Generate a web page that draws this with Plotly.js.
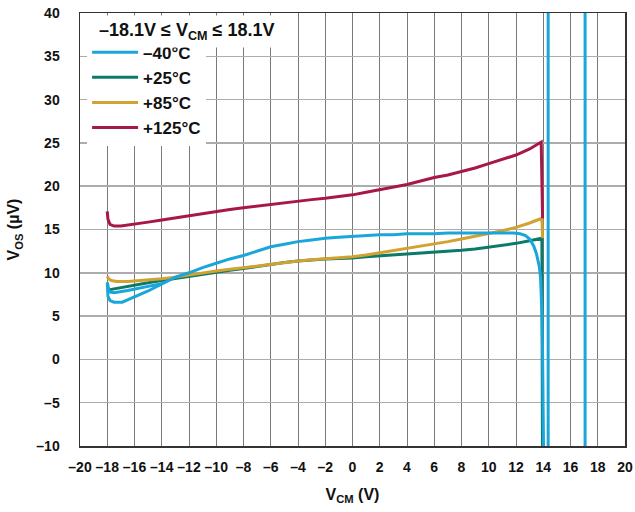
<!DOCTYPE html>
<html>
<head>
<meta charset="utf-8">
<script src="https://cdn.plot.ly/plotly-3.0.1.min.js"></script>
<style>
  html, body { margin: 0; padding: 0; background: #fff; }
  #chart { width: 635px; height: 512px; }
</style>
</head>
<body>
<div id="chart"></div>
<script>
// Offset voltage vs common-mode voltage, four temperatures
const legendNames = ['\u201340\u00b0C', '+25\u00b0C', '+85\u00b0C', '+125\u00b0C'];

// -40 °C (includes the off-scale excursions past 14 V)
const vcmM40 = [-14.0, -14.8, -15.5, -16.5, -17.5, -17.85, -18.0, -17.95, -17.8, -17.5, -16.9, -16.0, -15.0, -14.5, -14.0,
  -13.5, -13.0, -12.0, -11.0, -10.0, -9.0, -8.0, -7.0, -6.0, -5.0, -4.0, -3.0, -2.0, -1.0, 0, 1, 2, 3, 4, 5, 6, 7, 8, 9, 10, 11,
  11.8, 12.3, 12.7, 13.0, 13.3, 13.5, 13.7, 13.8, 13.9, 13.95, 14.0, 14.05, 14.36, 14.36, 17.07, 17.07];
const vosM40 = [8.75, 8.5, 8.2, 7.95, 7.7, 7.8, 8.9, 7.3, 6.8, 6.6, 6.6, 7.2, 7.9, 8.3, 8.7,
  9.1, 9.5, 10.0, 10.6, 11.1, 11.6, 12.0, 12.5, 13.0, 13.3, 13.6, 13.8, 14.0, 14.1, 14.2, 14.3, 14.4, 14.4, 14.5, 14.5, 14.5, 14.6, 14.6, 14.6, 14.6, 14.6,
  14.6, 14.5, 14.3, 13.9, 13.1, 12.2, 10.8, 9.5, 5.5, 1.0, -4.0, -15, -15, 45, 45, -15];

// +25 °C
const vcm25 = [-18.0, -17, -16, -15, -14, -13, -12, -11, -10, -9, -8, -7, -6, -5, -4, -3, -2, -1, 0, 1, 2, 3, 4, 5, 6, 7, 8, 9, 10, 11, 12, 13, 13.9, 13.95];
const vos25 = [8.0, 8.3, 8.6, 8.85, 9.1, 9.35, 9.6, 9.85, 10.1, 10.3, 10.5, 10.75, 11.0, 11.2, 11.35, 11.5, 11.6, 11.65, 11.7, 11.85, 11.95, 12.05, 12.15, 12.25, 12.35, 12.5, 12.6, 12.75, 12.95, 13.15, 13.4, 13.7, 14.0, -15];

// +85 °C
const vcm85 = [-18.0, -17.9, -17.7, -17.3, -16.5, -16, -15, -14, -13, -12, -11, -10, -9, -8, -7, -6, -5, -4, -3, -2, -1, 0, 1, 2, 3, 4, 5, 6, 7, 8, 9, 10, 11, 12, 13, 13.9, 13.95];
const vos85 = [9.6, 9.3, 9.1, 9.0, 9.0, 9.05, 9.15, 9.3, 9.5, 9.75, 9.95, 10.2, 10.4, 10.6, 10.8, 11.0, 11.2, 11.35, 11.5, 11.6, 11.7, 11.85, 12.05, 12.3, 12.55, 12.8, 13.05, 13.3, 13.6, 13.9, 14.2, 14.5, 14.85, 15.25, 15.75, 16.3, 14.0];

// +125 °C
const vcm125 = [-18.0, -17.95, -17.8, -17.5, -17, -16, -15, -14, -13, -12, -11, -10, -9, -8, -7, -6, -5, -4, -3, -2, -1, 0, 1, 2, 3, 4, 5, 6, 7, 8, 9, 10, 11, 12, 13, 13.85, 13.95];
const vos125 = [17.1, 16.2, 15.6, 15.4, 15.4, 15.6, 15.85, 16.1, 16.35, 16.6, 16.85, 17.1, 17.3, 17.5, 17.7, 17.9, 18.1, 18.3, 18.45, 18.6, 18.8, 19.0, 19.3, 19.6, 19.9, 20.2, 20.6, 21.0, 21.3, 21.7, 22.1, 22.6, 23.1, 23.6, 24.3, 25.1, 16.3];

const xTickVals = [-20, -18, -16, -14, -12, -10, -8, -6, -4, -2, 0, 2, 4, 6, 8, 10, 12, 14, 16, 18, 20];
const xTickText = ['\u201320', '\u201318', '\u201316', '\u201314', '\u201312', '\u201310', '\u20138', '\u20136', '\u20134', '\u20132', '0', '2', '4', '6', '8', '10', '12', '14', '16', '18', '20'];
const yTickVals = [-10, -5, 0, 5, 10, 15, 20, 25, 30, 35, 40];
const yTickText = ['\u201310', '\u20135', '0', '5', '10', '15', '20', '25', '30', '35', '40'];

const colors = ['#1aa6da', '#0b7a68', '#d1a232', '#a8174a'];
const FONT = 'Liberation Sans, Arial, Helvetica, sans-serif';

function series(x, y, name, color, rank) {
  return {
    type: 'scatter', mode: 'lines', x: x, y: y, name: name,
    line: { color: color, width: 3 }, legendrank: rank,
    hoverinfo: 'skip'
  };
}

// later traces are drawn on top
const data = [
  series(vcm25, vos25, legendNames[1], colors[1], 2),
  series(vcm85, vos85, legendNames[2], colors[2], 3),
  series(vcmM40, vosM40, legendNames[0], colors[0], 1),
  series(vcm125, vos125, legendNames[3], colors[3], 4)
];

const layout = {
  width: 635, height: 512,
  margin: { l: 80, r: 10, t: 13, b: 66 },
  paper_bgcolor: '#fff', plot_bgcolor: '#fff',
  font: { family: FONT, color: '#111', weight: 'bold' },
  showlegend: true,
  legend: {
    x: 0.013, y: 0.95, xanchor: 'left', yanchor: 'top',
    bgcolor: '#fff', borderwidth: 0, itemwidth: 46,
    font: { family: FONT, size: 17, weight: 'bold', color: '#111' },
    traceorder: 'normal'
  },
  xaxis: {
    range: [-20, 20], tickmode: 'array', tickvals: xTickVals, ticktext: xTickText,
    showgrid: true, gridcolor: '#7a7a7a', gridwidth: 1, zeroline: false,
    showline: true, mirror: true, linecolor: '#333', linewidth: 1.5,
    ticks: '', ticklabelstandoff: 8,
    tickfont: { family: FONT, size: 14, weight: 'bold', color: '#111' },
    title: { text: 'V<sub>CM</sub> (V)', font: { family: FONT, size: 16, weight: 'bold', color: '#111' }, standoff: 14 }
  },
  yaxis: {
    range: [-10, 40], tickmode: 'array', tickvals: yTickVals, ticktext: yTickText,
    showgrid: true, gridcolor: '#acacac', gridwidth: 1.5, zeroline: false,
    showline: true, mirror: true, linecolor: '#333', linewidth: 1.5,
    ticks: '', ticklabelstandoff: 16,
    tickfont: { family: FONT, size: 14, weight: 'bold', color: '#111' },
    title: { text: 'V<sub>OS</sub> (\u00b5V)', font: { family: FONT, size: 16, weight: 'bold', color: '#111' }, standoff: 12 }
  },
  annotations: [{
    xref: 'paper', yref: 'paper', x: 0.026, y: 0.996, xanchor: 'left', yanchor: 'top',
    text: '\u201318.1V \u2264 V<sub>CM</sub> \u2264 18.1V', showarrow: false,
    bgcolor: '#fff', borderpad: 4,
    font: { family: FONT, size: 18, weight: 'bold', color: '#111' }
  }]
};

Plotly.newPlot('chart', data, layout, { staticPlot: true, displayModeBar: false });
</script>
</body>
</html>
